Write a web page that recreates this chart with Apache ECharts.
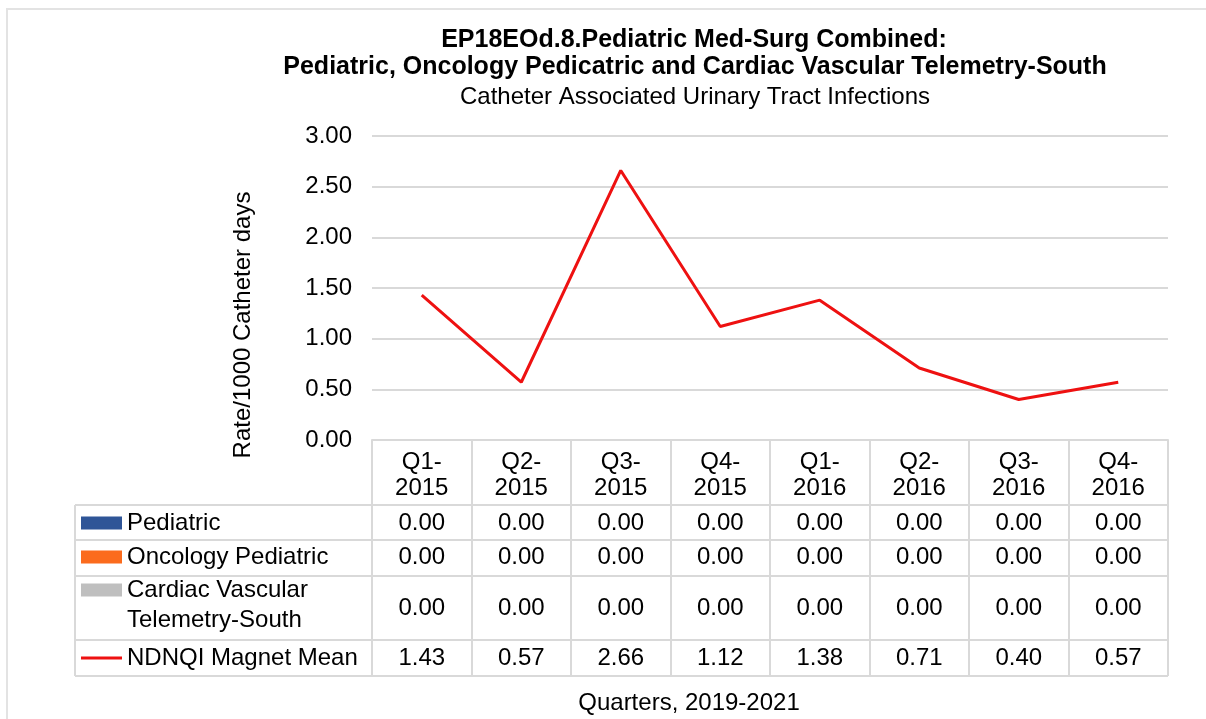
<!DOCTYPE html>
<html>
<head>
<meta charset="utf-8">
<script src="https://cdn.jsdelivr.net/npm/echarts@6/dist/echarts.min.js"></script>
<style>
html,body{margin:0;padding:0;background:#fff;}
#chart{width:1206px;height:719px;}
</style>
</head>
<body>
<div id="chart"></div>
<script>
// ---- data ----
const categories = ['Q1-2015','Q2-2015','Q3-2015','Q4-2015','Q1-2016','Q2-2016','Q3-2016','Q4-2016'];
const pediatric = [0,0,0,0,0,0,0,0];
const oncologyPediatric = [0,0,0,0,0,0,0,0];
const cardiacVascular = [0,0,0,0,0,0,0,0];
const ndnqiMean = [1.43,0.57,2.66,1.12,1.38,0.71,0.40,0.57];
const seriesNames = ['Pediatric','Oncology Pediatric','Cardiac Vascular Telemetry-South','NDNQI Magnet Mean'];
const titleLine1 = 'EP18EOd.8.Pediatric Med-Surg Combined:';
const titleLine2 = 'Pediatric, Oncology Pedicatric and Cardiac Vascular Telemetry-South';
const subtitle = 'Catheter Associated Urinary Tract Infections';
const yAxisName = 'Rate/1000 Catheter days';
const xAxisName = 'Quarters, 2019-2021';

// ---- layout ----
const FONT = 'Liberation Sans, Arial, sans-serif';
const FS = 24;
const GRID_L = 372, GRID_R = 1168, GRID_T = 136, GRID_B = 440;
const TABLE_L = 75;
const rowLines = [505, 540, 576, 640, 676];
const lineC = '#d9d9d9';
const colors = ['#2f5597', '#fb6b1d', '#bfbfbf', '#ee1111'];

const chart = echarts.init(document.getElementById('chart'), null, {renderer:'canvas'});

function valueAxis(arr, offset) {
  return {
    type: 'category', gridIndex: 0, position: 'bottom', offset: offset,
    data: categories,
    axisLine: {show:false}, axisTick: {show:false}, splitLine:{show:false},
    axisLabel: {interval:0, margin:0, fontSize:FS, fontFamily:FONT, color:'#000', lineHeight:24,
      formatter: (v, i) => arr[i].toFixed(2)}
  };
}

const legendBase = {
  orient:'horizontal', left: 81, padding: 0, itemWidth: 41, itemHeight: 13, itemGap: 0,
  selectedMode: false,
  textStyle: {fontSize: FS, fontFamily: FONT, color:'#000', lineHeight: 24}
};

const graphics = [
  {type:'rect', shape:{x:7, y:9, width:1220, height:730}, style:{fill:null, stroke:'#e3e3e3', lineWidth:2}, silent:true},
  {type:'text', x:694, y:40, style:{text:titleLine1, font:'bold 25px '+FONT, fill:'#000', align:'center', verticalAlign:'middle'}},
  {type:'text', x:695, y:67, style:{text:titleLine2, font:'bold 25px '+FONT, fill:'#000', align:'center', verticalAlign:'middle'}},
  {type:'text', x:695, y:97, style:{text:subtitle, font:'24px '+FONT, fill:'#000', align:'center', verticalAlign:'middle'}},
  {type:'text', x:243, y:325, rotation: Math.PI/2, style:{text:yAxisName, font:'24px '+FONT, fill:'#000', align:'center', verticalAlign:'middle'}},
  {type:'text', x:689, y:703, style:{text:xAxisName, font:'24px '+FONT, fill:'#000', align:'center', verticalAlign:'middle'}},
  {type:'line', shape:{x1:TABLE_L, y1:rowLines[0], x2:TABLE_L, y2:rowLines[rowLines.length-1]}, style:{stroke:lineC, lineWidth:2}}
];
rowLines.forEach(y => graphics.push({type:'line', shape:{x1:TABLE_L, y1:y, x2:GRID_R, y2:y}, style:{stroke:lineC, lineWidth:2}}));

const option = {
  backgroundColor: '#fff',
  animation: false,
  color: colors,
  grid: {left: GRID_L, right: 1206 - GRID_R, top: GRID_T, bottom: 719 - GRID_B, containLabel:false},
  legend: [
    Object.assign({}, legendBase, {top: 511, data:[{name: seriesNames[0], icon:'rect'}]}),
    Object.assign({}, legendBase, {top: 545, data:[{name: seriesNames[1], icon:'rect'}]}),
    Object.assign({}, legendBase, {top: 548, data:[{name: seriesNames[2], icon:'rect'}],
      formatter: () => '{e| }\n{a|Cardiac Vascular}\n{a|Telemetry-South}',
      textStyle: {fontSize: FS, fontFamily: FONT, color:'#000',
        rich: {e: {lineHeight: 30, fontSize: FS, fontFamily: FONT}, a: {lineHeight: 30, fontSize: FS, fontFamily: FONT, color:'#000'}}}}),
    Object.assign({}, legendBase, {top: 646, itemHeight: 3, data:[{name: seriesNames[3], icon:'rect'}]})
  ],
  xAxis: [
    {
      type:'category', gridIndex:0, position:'bottom', data: categories, boundaryGap: true,
      axisLine:{show:true, lineStyle:{color:lineC, width:2}},
      axisTick:{show:true, interval:0, length: rowLines[rowLines.length-1] - GRID_B, lineStyle:{color:lineC, width:2}},
      axisLabel:{interval:0, margin:9, fontSize:FS, fontFamily:FONT, color:'#000', lineHeight:26,
        formatter: v => v.replace('-', '-\n')},
      splitLine:{show:false}
    },
    valueAxis(pediatric, 71),
    valueAxis(oncologyPediatric, 105),
    valueAxis(cardiacVascular, 156),
    valueAxis(ndnqiMean, 206)
  ],
  yAxis: {
    type:'value', min:0, max:3, interval:0.5,
    axisLine:{show:false}, axisTick:{show:false},
    axisLabel:{margin:20, fontSize:FS, fontFamily:FONT, color:'#000', formatter: v => v.toFixed(2)},
    splitLine:{show:true, lineStyle:{color:lineC, width:2}}
  },
  series: [
    {name: seriesNames[0], type:'bar', data: pediatric, itemStyle:{color:colors[0]}},
    {name: seriesNames[1], type:'bar', data: oncologyPediatric, itemStyle:{color:colors[1]}},
    {name: seriesNames[2], type:'bar', data: cardiacVascular, itemStyle:{color:colors[2]}},
    {name: seriesNames[3], type:'line', data: ndnqiMean, symbol:'none', lineStyle:{color:colors[3], width:3}, itemStyle:{color:colors[3]}, z:10}
  ],
  graphic: graphics
};
chart.setOption(option);
</script>
</body>
</html>
